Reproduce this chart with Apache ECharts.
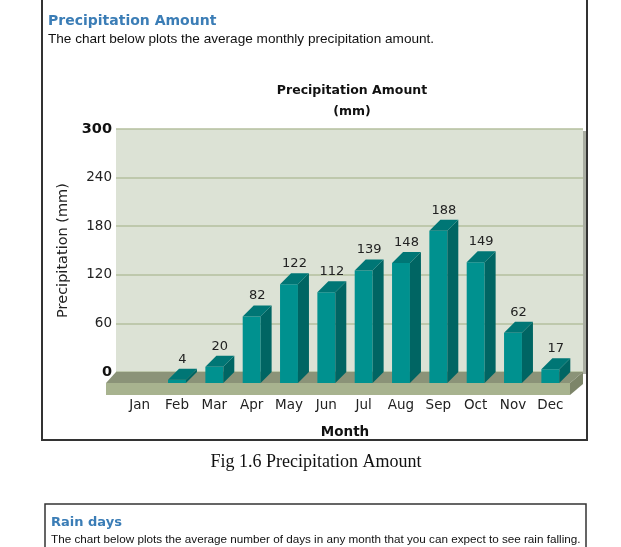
<!DOCTYPE html>
<html>
<head>
<meta charset="utf-8">
<script src="https://cdn.jsdelivr.net/npm/echarts@6/dist/echarts.min.js"></script>
<style>
  html, body { margin: 0; padding: 0; background: #fff; }
  #chart { width: 621px; height: 547px; }
</style>
</head>
<body>
<div id="chart"></div>
<script>
const months = ['Jan', 'Feb', 'Mar', 'Apr', 'May', 'Jun', 'Jul', 'Aug', 'Sep', 'Oct', 'Nov', 'Dec'];
const precipitation = [null, 4, 20, 82, 122, 112, 139, 148, 188, 149, 62, 17];
const yTicks = { min: 0, max: 300, interval: 60 };

const DEPTH = 11;
const font = 'DejaVu Sans, Verdana, sans-serif';

// 3D-looking bar: front face, right side face, top face and a value label
const renderBar = (params, api) => {
  const v = api.value(1);
  if (v == null || isNaN(v)) return null;
  const base = api.coord([api.value(0), 0]);
  const top = api.coord([api.value(0), v]);
  const w = api.size([1, 0])[0] * 0.48;
  const x0 = base[0] - w / 2, x1 = base[0] + w / 2;
  const yb = base[1] + DEPTH, yt = top[1] + DEPTH;
  return {
    type: 'group',
    children: [
      { type: 'rect', shape: { x: x0, y: yt, width: w, height: yb - yt }, style: { fill: '#00918f' } },
      { type: 'polygon', shape: { points: [[x1, yt], [x1 + DEPTH, yt - DEPTH], [x1 + DEPTH, yb - DEPTH], [x1, yb]] }, style: { fill: '#006563' } },
      { type: 'polygon', shape: { points: [[x0, yt], [x0 + DEPTH, yt - DEPTH], [x1 + DEPTH, yt - DEPTH], [x1, yt]] }, style: { fill: '#007675' } },
      { type: 'text', x: base[0] + DEPTH / 2, y: top[1] - 3, style: { text: String(v), fill: '#222', font: '13px ' + font, align: 'center', verticalAlign: 'bottom' } }
    ]
  };
};

// floor slab under the back wall plus the shadow on the wall's right edge
const renderFloor = (params) => {
  const c = params.coordSys;
  const bl = c.x, br = c.x + c.width, by = c.y + c.height;
  const fy = by + DEPTH, th = 12;
  return {
    type: 'group',
    children: [
      { type: 'rect', shape: { x: br, y: c.y + 2, width: 3, height: c.height }, style: { fill: '#a9ada2' } },
      { type: 'polygon', shape: { points: [[bl, by], [br, by], [br - DEPTH - 2, fy], [bl - DEPTH + 1, fy]] }, style: { fill: '#8b9378' } },
      { type: 'rect', shape: { x: bl - DEPTH + 1, y: fy, width: c.width - 3, height: th }, style: { fill: '#a8b38f' } },
      { type: 'polygon', shape: { points: [[br - DEPTH - 2, fy], [br, by], [br, by + th], [br - DEPTH - 2, fy + th]] }, style: { fill: '#7d8569' } }
    ]
  };
};

const chart = echarts.init(document.getElementById('chart'));
chart.setOption({
  animation: false,
  backgroundColor: '#fff',
  title: [
    { text: 'Precipitation Amount', left: 48, top: 14, padding: 0, textStyle: { fontFamily: font, fontSize: 14, fontWeight: 'bold', color: '#3b7db6' } },
    { text: 'The chart below plots the average monthly precipitation amount.', left: 48, top: 32, padding: 0, textStyle: { fontFamily: 'Liberation Sans, Arial', fontSize: 13.6, fontWeight: 'normal', color: '#111' } },
    { text: 'Precipitation Amount\n(mm)', left: 352, top: 80, padding: 0, textAlign: 'center', textStyle: { fontFamily: font, fontSize: 12.5, fontWeight: 'bold', color: '#111', lineHeight: 21, align: 'center' } },
    { text: 'Fig 1.6 Precipitation Amount', left: 316, top: 453, padding: 0, textAlign: 'center', textStyle: { fontFamily: 'Liberation Serif, Times New Roman', fontSize: 18, fontWeight: 'normal', color: '#111' } },
    { text: 'Rain days', left: 51, top: 516, padding: 0, textStyle: { fontFamily: font, fontSize: 13, fontWeight: 'bold', color: '#3b7db6' } },
    { text: 'The chart below plots the average number of days in any month that you can expect to see rain falling.', left: 51, top: 534, padding: 0, textStyle: { fontFamily: 'Liberation Sans, Arial', fontSize: 11.7, fontWeight: 'normal', color: '#111' } }
  ],
  graphic: [
    { type: 'rect', shape: { x: 42, y: -5, width: 545, height: 445 }, style: { fill: 'none', stroke: '#333', lineWidth: 2 } },
    { type: 'rect', shape: { x: 45, y: 504, width: 541, height: 60 }, style: { fill: 'none', stroke: '#333', lineWidth: 1.5 } }
  ],
  grid: [
    { left: 116, right: 38, top: 129, bottom: 175, show: true, backgroundColor: '#dce2d5', borderWidth: 0 },
    { left: 121, right: 52, top: 129, bottom: 175 }
  ],
  xAxis: [
    { gridIndex: 0, type: 'value', min: 0, max: 1, show: false },
    {
      gridIndex: 1, type: 'category', data: months,
      name: 'Month', nameLocation: 'middle', nameGap: 53,
      nameTextStyle: { fontFamily: font, fontSize: 13.5, fontWeight: 'bold', color: '#111' },
      axisLine: { show: false }, axisTick: { show: false },
      axisLabel: { interval: 0, margin: 26, fontFamily: font, fontSize: 13.5, color: '#222' }
    }
  ],
  yAxis: [
    {
      gridIndex: 0, type: 'value', min: yTicks.min, max: yTicks.max, interval: yTicks.interval,
      name: 'Precipitation (mm)', nameLocation: 'middle', nameGap: 41,
      nameTextStyle: { fontFamily: font, fontSize: 14.5, color: '#222' },
      axisLine: { show: false }, axisTick: { show: false },
      splitLine: { lineStyle: { color: '#b4bf9e', width: 1.5 } },
      axisLabel: {
        margin: 4, fontFamily: font, fontSize: 13.5, color: '#222',
        formatter: v => (v === yTicks.min || v === yTicks.max) ? '{b|' + v + '}' : String(v),
        rich: { b: { fontFamily: font, fontSize: 14.5, fontWeight: 'bold', color: '#111' } }
      }
    },
    { gridIndex: 1, type: 'value', min: yTicks.min, max: yTicks.max, interval: yTicks.interval, show: false }
  ],
  series: [
    { type: 'custom', xAxisIndex: 0, yAxisIndex: 0, data: [[0, 0]], renderItem: renderFloor, z: 1, silent: true },
    { type: 'custom', xAxisIndex: 1, yAxisIndex: 1, data: months.map((m, i) => [i, precipitation[i]]), renderItem: renderBar, z: 2 }
  ]
});
</script>
</body>
</html>
